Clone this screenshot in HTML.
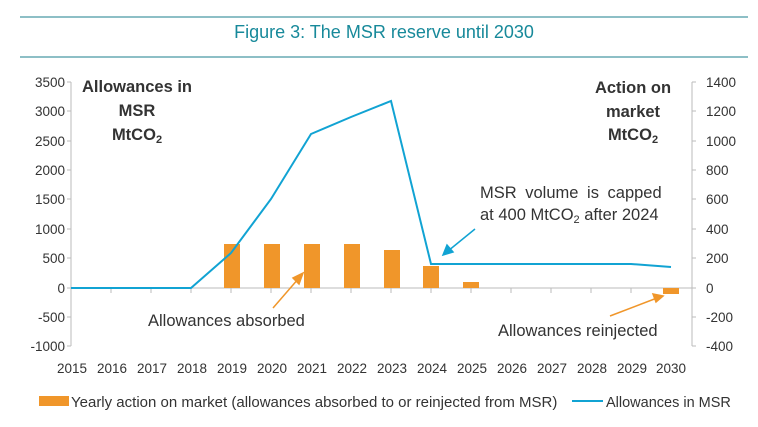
<!DOCTYPE html>
<html><head><meta charset="utf-8"><style>
body{margin:0;background:#fff;}
svg text{font-family:"Liberation Sans",sans-serif;fill:#333;}
</style></head><body>
<svg width="758" height="422" viewBox="0 0 758 422" xmlns="http://www.w3.org/2000/svg">
<line x1="20" y1="17" x2="748" y2="17" stroke="#1b7f8e" stroke-width="1"/>
<line x1="20" y1="57" x2="748" y2="57" stroke="#1b7f8e" stroke-width="1"/>
<text x="384" y="38" text-anchor="middle" font-size="18" style="fill:#17899a">Figure 3: The MSR reserve until 2030</text>
<g stroke="#bbb" stroke-width="1">
<line x1="71" y1="82" x2="71" y2="346"/>
<line x1="692" y1="82" x2="692" y2="346"/>
<line x1="71" y1="288" x2="692" y2="288"/>
</g>
<g stroke="#bbb">
<path d="M67 82H71M67 111H71M67 141H71M67 170H71M67 199H71M67 229H71M67 258H71M67 288H71M67 317H71M67 346H71"/>
<path d="M692 82H696M692 111H696M692 141H696M692 170H696M692 199H696M692 229H696M692 258H696M692 288H696M692 317H696M692 346H696"/>
<path d="M111 288V293M151 288V293M191 288V293M231 288V293M271 288V293M311 288V293M351 288V293M391 288V293M431 288V293M471 288V293M511 288V293M551 288V293M591 288V293M631 288V293"/>
</g>
<g font-size="13.5" text-anchor="end">
<text x="65" y="87">3500</text><text x="65" y="116">3000</text><text x="65" y="146">2500</text><text x="65" y="175">2000</text><text x="65" y="204">1500</text><text x="65" y="234">1000</text><text x="65" y="263">500</text><text x="65" y="293">0</text><text x="65" y="322">-500</text><text x="65" y="351">-1000</text>
</g>
<g font-size="13.5" text-anchor="start">
<text x="706" y="87">1400</text><text x="706" y="116">1200</text><text x="706" y="146">1000</text><text x="706" y="175">800</text><text x="706" y="204">600</text><text x="706" y="234">400</text><text x="706" y="263">200</text><text x="706" y="293">0</text><text x="706" y="322">-200</text><text x="706" y="351">-400</text>
</g>
<g font-size="13.5" text-anchor="middle">
<text x="72" y="373">2015</text><text x="112" y="373">2016</text><text x="152" y="373">2017</text><text x="192" y="373">2018</text><text x="232" y="373">2019</text><text x="272" y="373">2020</text><text x="312" y="373">2021</text><text x="352" y="373">2022</text><text x="392" y="373">2023</text><text x="432" y="373">2024</text><text x="472" y="373">2025</text><text x="512" y="373">2026</text><text x="552" y="373">2027</text><text x="592" y="373">2028</text><text x="632" y="373">2029</text><text x="671" y="373">2030</text>
</g>
<g fill="#f0962a">
<rect x="224" y="244" width="16" height="44"/>
<rect x="264" y="244" width="16" height="44"/>
<rect x="304" y="244" width="16" height="44"/>
<rect x="344" y="244" width="16" height="44"/>
<rect x="384" y="250" width="16" height="38"/>
<rect x="423" y="266" width="16" height="22"/>
<rect x="463" y="282" width="16" height="6"/>
<rect x="663" y="288" width="16" height="6"/>
</g>
<polyline fill="none" stroke="#11a3d3" stroke-width="2" points="71,288 111,288 151,288 191,288 231,253 271,199 311,134 351,117 391,101 431,264 471,264 511,264 551,264 591,264 631,264 671,267"/>
<g font-size="16.5" font-weight="bold" text-anchor="middle">
<text x="137" y="92">Allowances in</text><text x="137" y="116">MSR</text><text x="137" y="140">MtCO<tspan font-size="11" dy="3">2</tspan></text>
<text x="633" y="93">Action on</text><text x="633" y="117">market</text><text x="633" y="140">MtCO<tspan font-size="11" dy="3">2</tspan></text>
</g>
<g font-size="16.5">
<text x="148" y="326">Allowances absorbed</text>
<text x="498" y="336">Allowances reinjected</text>
<text x="480" y="198" word-spacing="4">MSR volume is capped</text>
<text x="480" y="220">at 400 MtCO<tspan font-size="11" dy="3">2</tspan><tspan dy="-3"> after 2024</tspan></text>
</g>
<g stroke="#f0962a" stroke-width="1.5" fill="#f0962a">
<line x1="273" y1="308" x2="299" y2="278"/><polygon points="303,273 293,278 299,284"/>
<line x1="610" y1="316" x2="657" y2="298"/><polygon points="663,296 653,294 656,302"/>
</g>
<g stroke="#11a3d3" stroke-width="1.5" fill="#11a3d3">
<line x1="475" y1="229" x2="448" y2="251"/><polygon points="443,255 447,245 453,252"/>
</g>
<rect x="39" y="396" width="30" height="10" fill="#f0962a"/>
<text x="71" y="407" font-size="15">Yearly action on market (allowances absorbed to or reinjected from MSR)</text>
<line x1="572" y1="401" x2="603" y2="401" stroke="#11a3d3" stroke-width="2"/>
<text x="606" y="407" font-size="14.5">Allowances in MSR</text>
</svg>
</body></html>
